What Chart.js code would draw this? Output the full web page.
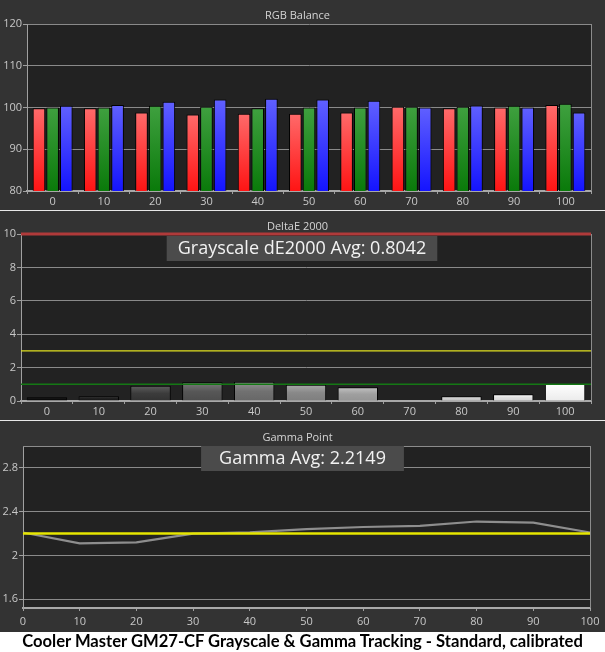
<!DOCTYPE html>
<html>
<head>
<meta charset="utf-8">
<script src="https://cdn.jsdelivr.net/npm/chart.js@4.4.0/dist/chart.umd.min.js"></script>
<style>
  body { margin: 0; background: #ffffff; }
  #wrap { width: 605px; height: 652px; position: relative; background: #333333; overflow: hidden; }
  canvas { display: block; }
  .sep { height: 1px; background: #e8e8e8; }
  #caption {
    position: absolute; left: 0; top: 632px; width: 605px; height: 20px;
    background: #ffffff; color: #000000; text-align: center;
    font: bold 16.6px Lato, sans-serif; line-height: 19px; white-space: nowrap;
  }
</style>
</head>
<body>
<div id="wrap">
  <canvas id="rgb" width="605" height="210"></canvas>
  <div class="sep"></div>
  <canvas id="delta" width="605" height="209"></canvas>
  <div class="sep"></div>
  <canvas id="gamma" width="605" height="211"></canvas>
  <div id="caption">Cooler Master GM27-CF Grayscale &amp; Gamma Tracking - Standard, calibrated</div>
</div>
<script>
// данные
var levels = ["0", "10", "20", "30", "40", "50", "60", "70", "80", "90", "100"];

var redVals = [99.8, 99.8, 98.8, 98.3, 98.5, 98.5, 98.8, 100.2, 99.8, 100.0, 100.6];
var greenVals = [100.0, 100.0, 100.4, 100.2, 99.8, 100.0, 100.0, 100.2, 100.2, 100.4, 100.9];
var blueVals = [100.4, 100.6, 101.4, 101.9, 102.1, 101.9, 101.6, 100.0, 100.5, 100.0, 98.8];
var rgbTicks = [80, 90, 100, 110, 120];

var deltaE = [0.22, 0.28, 0.92, 1.12, 1.16, 0.98, 0.82, 0.0, 0.28, 0.40, 1.04];
var deltaLimits = [1, 3, 10];
var deltaTicks = [0, 2, 4, 6, 8, 10];

var gammaVals = [2.21, 2.11, 2.12, 2.20, 2.21, 2.24, 2.26, 2.27, 2.31, 2.30, 2.21];
var gammaTarget = [2.2, 2.2, 2.2, 2.2, 2.2, 2.2, 2.2, 2.2, 2.2, 2.2, 2.2];
var gammaTicks = [1.6, 2, 2.4, 2.8];

var titles = ["RGB Balance", "DeltaE 2000", "Gamma Point"];
var deltaAvgText = "Grayscale dE2000 Avg: 0.8042";
var gammaAvgText = "Gamma Avg: 2.2149";

var FONT = '"Open Sans", sans-serif';

// фон, заголовок, рамка, линии порогов и плашка со средним
var panelPlugin = {
  id: "panel",
  beforeDraw: function (chart, args, opts) {
    var ctx = chart.ctx, a = chart.chartArea;
    ctx.save();
    ctx.fillStyle = "#333333";
    ctx.fillRect(0, 0, chart.width, chart.height);
    ctx.fillStyle = "#222222";
    ctx.fillRect(a.left, a.top, a.right - a.left, a.bottom - a.top);
    ctx.fillStyle = "#d4d4d4";
    ctx.font = "11px " + FONT;
    ctx.textAlign = "center";
    ctx.textBaseline = "middle";
    ctx.fillText(opts.title, chart.width / 2 - 5, opts.titleY);
    ctx.restore();
  },
  afterDatasetsDraw: function (chart, args, opts) {
    var ctx = chart.ctx, a = chart.chartArea, y = chart.scales.y;
    ctx.save();
    // рамка
    ctx.strokeStyle = "#8c8c8c";
    ctx.lineWidth = 1;
    ctx.beginPath();
    ctx.moveTo(a.right + 0.5, a.top);
    ctx.lineTo(a.right + 0.5, a.bottom);
    if (opts.frameTop) {
      ctx.moveTo(a.left, a.top + 0.5);
      ctx.lineTo(a.right, a.top + 0.5);
    }
    ctx.stroke();
    // пороги
    if (opts.limits) {
      var styles = [["#147814", 1.5], ["#e0e020", 1.2], ["#b03a3a", 3]];
      opts.limits.forEach(function (v, i) {
        var py = y.getPixelForValue(v);
        ctx.strokeStyle = styles[i][0];
        ctx.lineWidth = styles[i][1];
        ctx.beginPath();
        ctx.moveTo(a.left, py);
        ctx.lineTo(a.right, py);
        ctx.stroke();
      });
    }
    // плашка
    if (opts.box) {
      ctx.font = "18px " + FONT;
      var w = ctx.measureText(opts.box).width + opts.boxPad * 2;
      var cx = (a.left + a.right) / 2 - 4;
      ctx.fillStyle = "#4b4b4b";
      ctx.fillRect(cx - w / 2, a.top + opts.boxTop, w, 25);
      ctx.fillStyle = "#f2f2f2";
      ctx.textAlign = "center";
      ctx.textBaseline = "middle";
      ctx.fillText(opts.box, cx, a.top + opts.boxTop + 13);
    }
    ctx.restore();
  }
};

function yAxis(min, max, ticks, width) {
  return {
    min: min,
    max: max,
    afterBuildTicks: function (s) {
      s.ticks = ticks.map(function (v) { return { value: v }; });
    },
    afterFit: function (s) {
      s.width = width;
      s.paddingTop = 0;
      s.paddingBottom = 0;
    },
    grid: { color: "#8a8a8a", lineWidth: 1, tickLength: 4, tickColor: "#a0a0a0" },
    border: { color: "#a0a0a0", width: 1 },
    ticks: {
      color: "#c8c8c8",
      font: { family: FONT, size: 11 },
      padding: 1,
      callback: function (v) { return String(v); }
    }
  };
}

function xAxis(height, offset, pad) {
  return {
    offset: offset,
    grid: { drawOnChartArea: false, tickLength: 3, color: "#a0a0a0", offset: offset },
    border: { color: "#a8a8a8", width: 2 },
    ticks: {
      color: "#c8c8c8",
      font: { family: FONT, size: 11 },
      padding: pad,
      autoSkip: false,
      maxRotation: 0
    },
    afterFit: function (s) {
      s.height = height;
      s.paddingLeft = 0;
      s.paddingRight = 0;
    }
  };
}

function barGradient(top, bottom) {
  return function (c) {
    var chart = c.chart, a = chart.chartArea;
    if (!a || !c.parsed) return bottom;
    var py = chart.scales.y.getPixelForValue(c.parsed.y);
    var g = chart.ctx.createLinearGradient(0, py, 0, a.bottom);
    g.addColorStop(0, top);
    g.addColorStop(1, bottom);
    return g;
  };
}

function grayGradient(c) {
  var chart = c.chart, a = chart.chartArea;
  if (!a || !c.parsed) return "#888888";
  var lvl = Number(levels[c.dataIndex]) / 100;
  var base = Math.round(255 * Math.pow(lvl, 0.8));
  function gray(v) {
    v = Math.max(10, Math.min(255, v));
    return "rgb(" + v + "," + v + "," + v + ")";
  }
  var py = chart.scales.y.getPixelForValue(c.parsed.y);
  var g = chart.ctx.createLinearGradient(0, py, 0, a.bottom);
  g.addColorStop(0, gray(base + 25));
  g.addColorStop(0.5, gray(base - 10));
  g.addColorStop(1, gray(base - 20));
  return g;
}

var common = {
  responsive: false,
  animation: false,
  devicePixelRatio: 1,
  events: []
};

new Chart(document.getElementById("rgb"), {
  type: "bar",
  data: {
    labels: levels,
    datasets: [
      { data: redVals, backgroundColor: barGradient("#ff6a6a", "#ff1414"), borderColor: "#000000", borderWidth: 1 },
      { data: greenVals, backgroundColor: barGradient("#3fa03f", "#0a7a0a"), borderColor: "#000000", borderWidth: 1 },
      { data: blueVals, backgroundColor: barGradient("#6060ff", "#1414ff"), borderColor: "#000000", borderWidth: 1 }
    ]
  },
  options: Object.assign({}, common, {
    layout: { padding: { top: 24, right: 14, left: 0, bottom: 0 } },
    datasets: { bar: { categoryPercentage: 0.8, barPercentage: 0.92 } },
    plugins: {
      legend: { display: false },
      tooltip: { enabled: false },
      panel: { title: titles[0], titleY: 16 }
    },
    scales: { x: xAxis(19, true, 1), y: yAxis(80, 120, rgbTicks, 27) }
  }),
  plugins: [panelPlugin]
});

new Chart(document.getElementById("delta"), {
  type: "bar",
  data: {
    labels: levels,
    datasets: [
      { data: deltaE, backgroundColor: grayGradient, borderColor: "#000000", borderWidth: 1 }
    ]
  },
  options: Object.assign({}, common, {
    layout: { padding: { top: 23, right: 14, left: 0, bottom: 0 } },
    datasets: { bar: { categoryPercentage: 0.78, barPercentage: 1 } },
    plugins: {
      legend: { display: false },
      tooltip: { enabled: false },
      panel: { title: titles[1], titleY: 16, limits: deltaLimits, box: deltaAvgText, boxTop: 2, boxPad: 11 }
    },
    scales: { x: xAxis(19, true, 1), y: yAxis(0, 10, deltaTicks, 21) }
  }),
  plugins: [panelPlugin]
});

new Chart(document.getElementById("gamma"), {
  type: "line",
  data: {
    labels: levels,
    datasets: [
      { data: gammaTarget, borderColor: "#e6e600", borderWidth: 2.5, pointRadius: 0, tension: 0, order: 0 },
      { data: gammaVals, borderColor: "#8e8e8e", borderWidth: 2.2, pointRadius: 0, tension: 0, order: 1 }
    ]
  },
  options: Object.assign({}, common, {
    layout: { padding: { top: 25, right: 15, left: 0, bottom: 0 } },
    plugins: {
      legend: { display: false },
      tooltip: { enabled: false },
      panel: { title: titles[2], titleY: 17, box: gammaAvgText, boxTop: 0, boxPad: 18, frameTop: true }
    },
    scales: { x: xAxis(24, false, 4), y: yAxis(1.52, 3.0, gammaTicks, 23) }
  }),
  plugins: [panelPlugin]
});
</script>
</body>
</html>
